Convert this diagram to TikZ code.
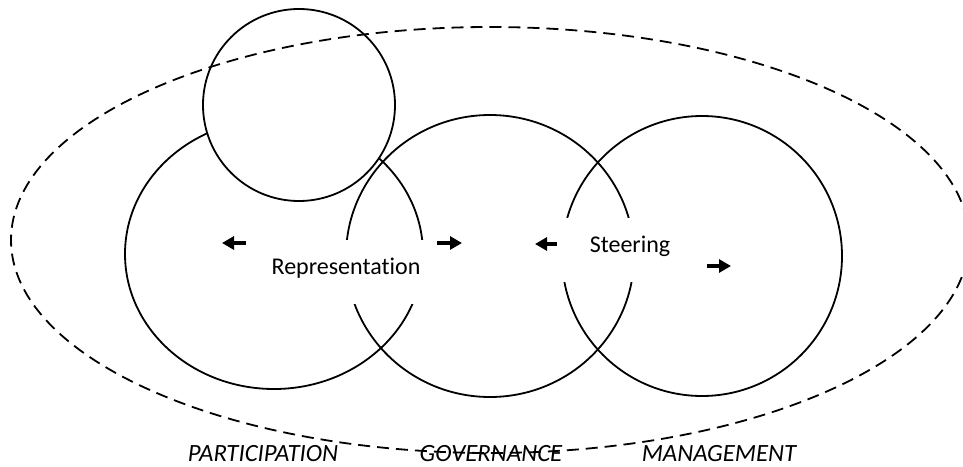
\documentclass[tikz,border=0pt]{standalone}
\usepackage{fontspec}
\setmainfont[Ligatures = NoCommon]{Carlito}
\usetikzlibrary{arrows.meta}

\begin{document}
\begin{tikzpicture}[x = .5pt, y = -.5pt, line width = .9pt,
  lbl/.style = {fill = white, inner sep = 0pt, text height = 17pt, text depth = 15pt, anchor = base, font = \fontsize{12}{14}\selectfont},
  area/.style = {anchor = base, font = \fontsize{12.4}{15}\selectfont\itshape},
  push/.style = {-{Triangle[length = 6pt, width = 6.5pt]}, line width = 1.6pt}]
\useasboundingbox (0,0) rectangle (963,466);
\draw (274,254) ellipse [x radius = 149, y radius = 135];
\draw (490,256) ellipse [x radius = 144, y radius = 141];
\draw (702,256) circle [radius = 140];
\draw[fill = white] (299,105) circle [radius = 96];
\draw[dash pattern = on 6pt off 3.5pt] (490,240) ellipse [x radius = 479, y radius = 213];
\node[lbl, minimum width = 84pt] (repr) at (346,274) {Representation};
\node[lbl, minimum width = 70pt] (steer) at (630,252) {Steering};
\foreach \a/\b/\y [count = \i] in {246/222/243, 437/462/243, 557/535/244, 707/731/266} {
  \coordinate (s\i) at (\a,\y);
  \coordinate (e\i) at (\b,\y);
  \draw[push] (s\i) -- (e\i);
}
\node[area] (part) at (263,461) {PARTICIPATION};
\node[area] (gov) at (491,461) {GOVERNANCE};
\node[area] (man) at (719,461) {MANAGEMENT};
\end{tikzpicture}
\end{document}
